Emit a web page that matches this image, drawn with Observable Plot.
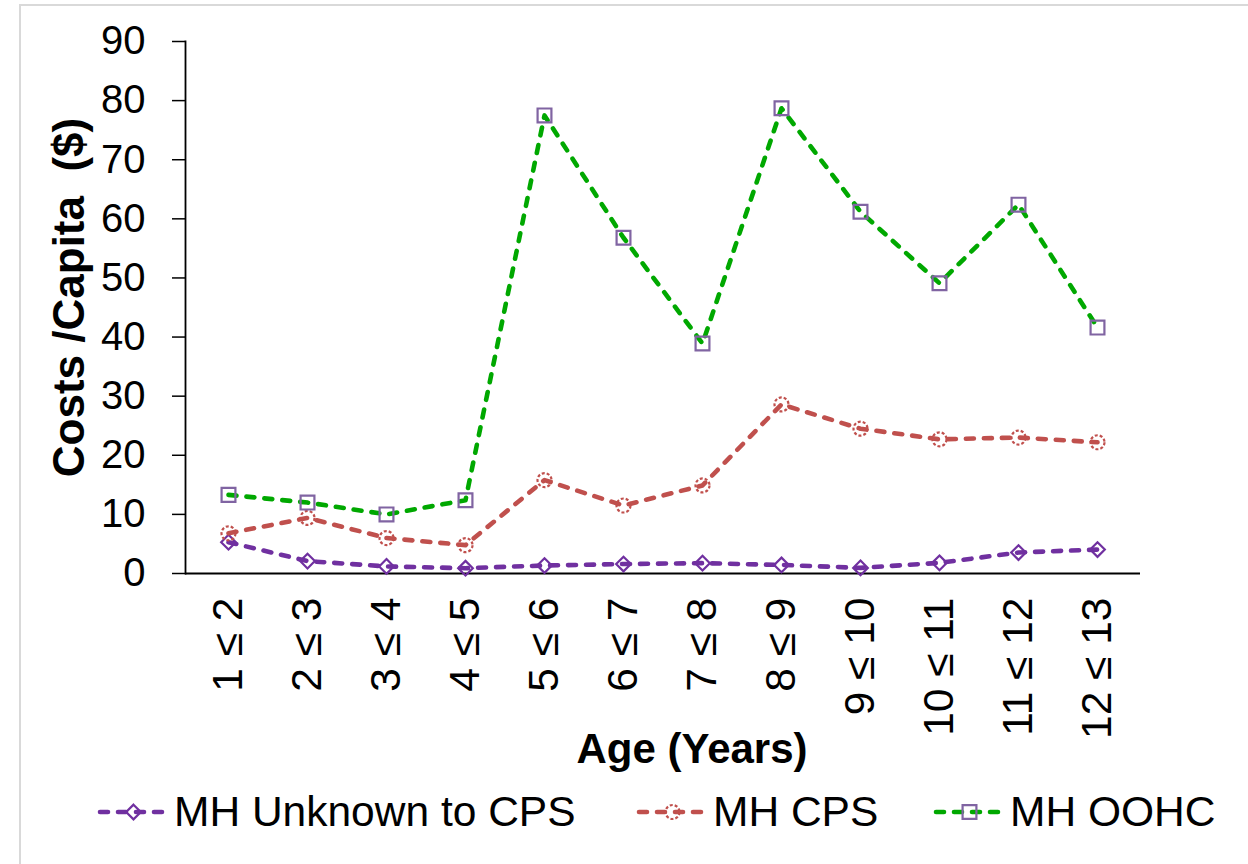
<!DOCTYPE html>
<html><head><meta charset="utf-8">
<script src="https://cdn.jsdelivr.net/npm/d3@7"></script>
<script src="https://cdn.jsdelivr.net/npm/@observablehq/plot@0.6"></script>
<style>
body{margin:0;background:#fff;font-family:"Liberation Sans",Arial,sans-serif;}
#wrap{position:relative;width:1248px;height:864px;overflow:hidden;background:#fff;}
#frame{position:absolute;left:19px;top:4px;width:1300px;height:900px;border-left:2px solid #d9d9d9;border-top:2px solid #d9d9d9;}
#chart{position:absolute;left:0;top:0;}
#legend{position:absolute;left:0;top:790px;width:1248px;height:44px;}
.item{position:absolute;top:0;height:44px;display:flex;align-items:center;font-size:42.5px;color:#000;white-space:nowrap;}
.item svg{margin-right:4px;}
</style></head><body>
<div id="wrap"><div id="frame"></div><div id="chart"></div><div id="legend"></div></div>
<script>
const ageGroups = ["1 ≤ 2","2 ≤ 3","3 ≤ 4","4 ≤ 5","5 ≤ 6","6 ≤ 7","7 ≤ 8","8 ≤ 9","9 ≤ 10","10 ≤ 11","11 ≤ 12","12 ≤ 13"];
const unknownCPS = [5.3, 2.1, 1.2, 0.9, 1.35, 1.6, 1.75, 1.45, 0.95, 1.8, 3.55, 4.05];
const cpsValues = [6.8, 9.4, 6.0, 4.8, 15.8, 11.5, 14.9, 28.6, 24.5, 22.7, 23.0, 22.2];
const oohcValues = [13.3, 12.0, 10.0, 12.4, 77.5, 56.8, 38.9, 78.7, 61.2, 49.1, 62.4, 41.6];
const seriesNames = ["MH Unknown to CPS", "MH CPS", "MH OOHC"];
const yTicks = [0, 10, 20, 30, 40, 50, 60, 70, 80, 90];
const yTitle = "Costs /Capita  ($)";
const xTitle = "Age (Years)";

const styles = [
  {line:"#7030A0", marker:"#7030A0", symbol:"diamond2", r:6.6, dash:undefined},
  {line:"#C0504D", marker:"#C0504D", symbol:"circle", r:7, dash:"3,2"},
  {line:"#00A800", marker:"#8064A2", symbol:"square", r:7.8, dash:undefined}
];
const FONT = "'Liberation Sans', Arial, sans-serif";
const rows = (vals, s) => vals.map((v, i) => ({age: ageGroups[i], value: v, series: s}));
const data = [rows(unknownCPS, seriesNames[0]), rows(cpsValues, seriesNames[1]), rows(oohcValues, seriesNames[2])];

const chart = Plot.plot({
  width: 1248, height: 790,
  marginLeft: 185, marginRight: 108, marginTop: 41, marginBottom: 217,
  style: {fontFamily: FONT, background: "transparent", overflow: "visible", color: "#000"},
  x: {type: "point", domain: ageGroups, padding: 0.5, label: null},
  y: {domain: [0, 90], label: null},
  marks: [
    Plot.ruleY([0], {stroke: "#000", strokeWidth: 1.8}),
    Plot.frame({anchor: "left", stroke: "#000", strokeWidth: 1.8}),
    Plot.axisY({ticks: yTicks, tickSize: 13, tickPadding: 27, fontSize: 40, label: null, strokeWidth: 1.5}),
    Plot.axisX({tickRotate: -90, tickSize: 0, tickPadding: 24, fontSize: 42.5, label: null}),
    Plot.text([yTitle], {frameAnchor: "left", textAnchor: "middle", dx: -116, dy: -10, rotate: -90, fontSize: 44, fontWeight: "bold"}),
    Plot.text([xTitle], {frameAnchor: "bottom", textAnchor: "middle", dx: 29, dy: 189, fontSize: 42, fontWeight: "bold"}),
    ...data.flatMap((d, k) => [
      Plot.line(d, {x: "age", y: "value", stroke: styles[k].line, strokeWidth: 4.6, strokeDasharray: "8,10", strokeLinecap: "round"}),
      Plot.dot(d, {x: "age", y: "value", symbol: styles[k].symbol, r: styles[k].r, stroke: styles[k].marker, strokeWidth: 2.2, fill: "none", strokeDasharray: styles[k].dash})
    ])
  ]
});
document.getElementById("chart").appendChild(chart);

// legend
const legendLefts = [97, 636, 933];
const legend = d3.select("#legend");
seriesNames.forEach((name, k) => {
  const st = styles[k];
  const item = legend.append("div").attr("class", "item").style("left", legendLefts[k] + "px");
  const svg = item.append("svg").attr("width", 73).attr("height", 44);
  svg.append("line").attr("x1", 3).attr("x2", 70).attr("y1", 22).attr("y2", 22)
    .attr("stroke", st.line).attr("stroke-width", 4.6).attr("stroke-dasharray", "8,10").attr("stroke-linecap", "round");
  const sym = {diamond2: d3.symbolDiamond2, circle: d3.symbolCircle, square: d3.symbolSquare}[st.symbol];
  svg.append("path").attr("transform", "translate(36.5,22)")
    .attr("d", d3.symbol(sym, Math.PI * st.r * st.r)())
    .attr("fill", "none").attr("stroke", st.marker).attr("stroke-width", 2.2)
    .attr("stroke-dasharray", st.dash || null);
  item.append("span").text(name);
});
</script>
</body></html>
